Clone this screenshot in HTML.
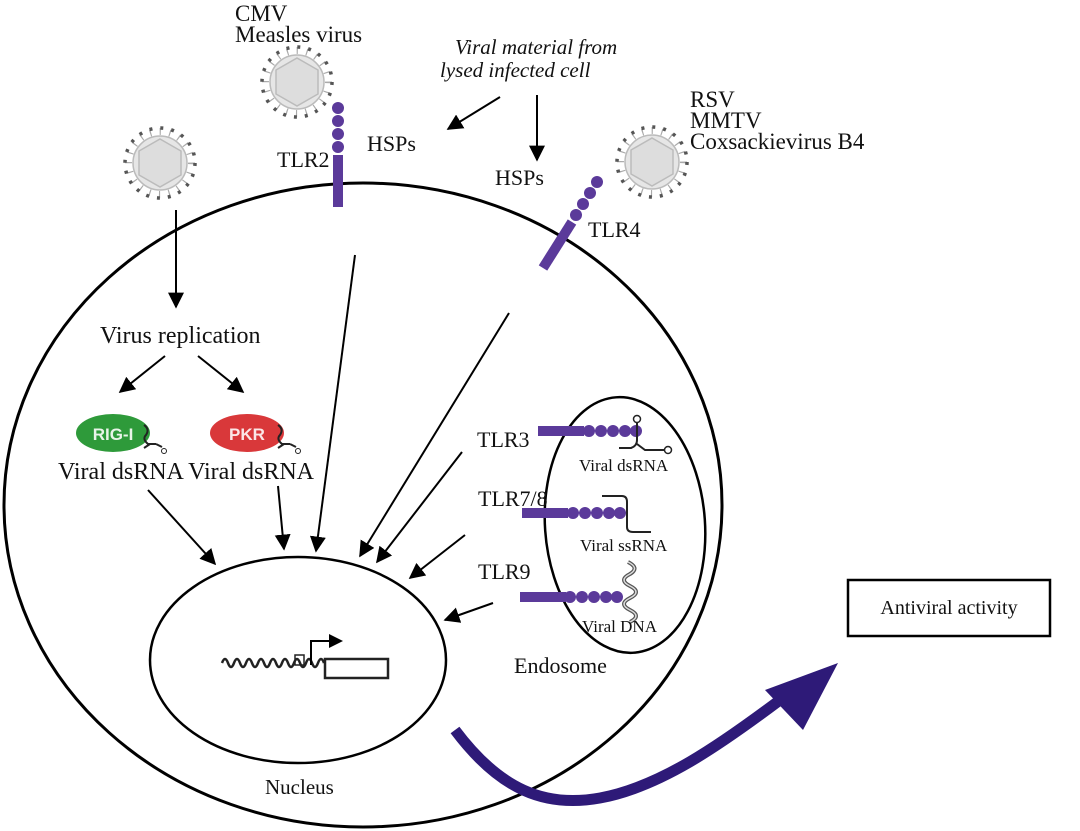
<!DOCTYPE html>
<html><head><style>
html,body{margin:0;padding:0;background:#fff;}
svg{display:block;}
text{font-family:"Liberation Serif",serif;fill:#111;}
</style></head><body>
<svg width="1080" height="831" viewBox="0 0 1080 831" xmlns="http://www.w3.org/2000/svg">
<defs>
<marker id="ah2" viewBox="0 0 10 10" refX="9" refY="5" markerWidth="16" markerHeight="16" orient="auto" markerUnits="userSpaceOnUse">
<path d="M0,0 L10,5 L0,10 z" fill="#000"/></marker>
<g id="virus">
<circle r="31" fill="none" stroke="#aaa" stroke-width="8" stroke-dasharray="1.2 8.5"/>
<circle r="28" fill="#fff"/>
<circle r="35" fill="none" stroke="#555" stroke-width="3.5" stroke-dasharray="3 8"/>
<circle r="27" fill="#e6e6e6" stroke="#bbb" stroke-width="1.5"/>
<polygon points="0,-24 21,-12 21,12 0,24 -21,12 -21,-12" fill="#ddd" stroke="#bbb" stroke-width="1.5"/>
</g>
</defs>

<ellipse cx="363" cy="505" rx="359" ry="322" fill="none" stroke="#000" stroke-width="3"/>
<ellipse cx="298" cy="660" rx="148" ry="103" fill="none" stroke="#000" stroke-width="2.5"/>
<ellipse cx="625" cy="525" rx="80" ry="128" fill="none" stroke="#000" stroke-width="2.5" transform="rotate(-4 625 525)"/>

<use href="#virus" x="160" y="163"/>
<use href="#virus" x="297" y="82"/>
<use href="#virus" x="652" y="162"/>

<text x="235" y="21" font-size="23">CMV</text>
<text x="235" y="42" font-size="23">Measles virus</text>
<text x="455" y="54" font-size="21" font-style="italic">Viral material from</text>
<text x="440" y="77" font-size="21" font-style="italic">lysed infected cell</text>
<text x="367" y="151" font-size="22">HSPs</text>
<text x="495" y="185" font-size="22">HSPs</text>
<text x="277" y="167" font-size="22">TLR2</text>
<text x="690" y="107" font-size="23">RSV</text>
<text x="690" y="128" font-size="23">MMTV</text>
<text x="690" y="149" font-size="23">Coxsackievirus B4</text>
<text x="588" y="237" font-size="22">TLR4</text>

<rect x="333" y="155" width="10" height="52" fill="#5b3a9a"/>
<g fill="#5b3a9a"><circle cx="338" cy="108" r="6"/><circle cx="338" cy="121" r="6"/><circle cx="338" cy="134" r="6"/><circle cx="338" cy="147" r="6"/></g>
<line x1="543" y1="268" x2="572" y2="222" stroke="#5b3a9a" stroke-width="10"/>
<g fill="#5b3a9a"><circle cx="576" cy="215" r="6"/><circle cx="583" cy="204" r="6"/><circle cx="590" cy="193" r="6"/><circle cx="597" cy="182" r="6"/></g>

<line x1="500" y1="97" x2="448" y2="129" stroke="#000" stroke-width="2" marker-end="url(#ah2)"/>
<line x1="537" y1="95" x2="537" y2="160" stroke="#000" stroke-width="2" marker-end="url(#ah2)"/>

<line x1="176" y1="210" x2="176" y2="307" stroke="#000" stroke-width="2" marker-end="url(#ah2)"/>
<text x="100" y="343" font-size="24">Virus replication</text>
<line x1="165" y1="356" x2="120" y2="392" stroke="#000" stroke-width="2" marker-end="url(#ah2)"/>
<line x1="198" y1="356" x2="243" y2="392" stroke="#000" stroke-width="2" marker-end="url(#ah2)"/>

<ellipse cx="113" cy="433" rx="37" ry="19" fill="#2e9a3a"/>
<text x="113" y="440" font-size="17" text-anchor="middle" style="fill:#e8f4e8;font-family:'Liberation Sans',sans-serif;font-weight:bold">RIG-I</text>
<ellipse cx="247" cy="433" rx="37" ry="19" fill="#d9383a"/>
<text x="247" y="440" font-size="17" text-anchor="middle" style="fill:#fbe6e6;font-family:'Liberation Sans',sans-serif;font-weight:bold">PKR</text>
<path d="M144,425 q6,4 2,10 q-4,4 2,9 l8,0 M150,444 l-6,4 M156,444 l6,3" stroke="#222" stroke-width="2" fill="none"/>
<circle cx="164" cy="451" r="2.5" fill="none" stroke="#222"/>
<path d="M278,425 q6,4 2,10 q-4,4 2,9 l8,0 M284,444 l-6,4 M290,444 l6,3" stroke="#222" stroke-width="2" fill="none"/>
<circle cx="298" cy="451" r="2.5" fill="none" stroke="#222"/>
<text x="58" y="479" font-size="24">Viral dsRNA Viral dsRNA</text>

<g stroke="#000" stroke-width="2" marker-end="url(#ah2)">
<line x1="148" y1="490" x2="215" y2="564"/>
<line x1="278" y1="486" x2="284" y2="549"/>
<line x1="355" y1="255" x2="316" y2="551"/>
<line x1="509" y1="313" x2="360" y2="556"/>
<line x1="462" y1="452" x2="377" y2="562"/>
<line x1="465" y1="535" x2="410" y2="578"/>
<line x1="493" y1="603" x2="445" y2="620"/>
</g>

<text x="477" y="447" font-size="22">TLR3</text>
<text x="478" y="506" font-size="22">TLR7/8</text>
<text x="478" y="579" font-size="22">TLR9</text>
<rect x="538" y="426" width="46" height="10" fill="#5b3a9a"/>
<g fill="#5b3a9a"><circle cx="589" cy="431" r="6"/><circle cx="601" cy="431" r="6"/><circle cx="613" cy="431" r="6"/><circle cx="625" cy="431" r="6"/><circle cx="636" cy="431" r="6"/></g>
<path d="M637,422 l0,18 q0,6 -6,8 l-12,0 M637,444 l8,6 l20,0" stroke="#222" stroke-width="2" fill="none"/>
<circle cx="637" cy="419" r="3.5" fill="#fff" stroke="#222" stroke-width="1.5"/>
<circle cx="668" cy="450" r="3.5" fill="#fff" stroke="#222" stroke-width="1.5"/>
<text x="579" y="471" font-size="17">Viral dsRNA</text>
<rect x="522" y="508" width="46" height="10" fill="#5b3a9a"/>
<g fill="#5b3a9a"><circle cx="573" cy="513" r="6"/><circle cx="585" cy="513" r="6"/><circle cx="597" cy="513" r="6"/><circle cx="609" cy="513" r="6"/><circle cx="620" cy="513" r="6"/></g>
<path d="M602,496 l20,0 q5,0 5,6 l0,25 q0,5 6,5 l18,0" stroke="#222" stroke-width="2" fill="none"/>
<text x="580" y="551" font-size="17">Viral ssRNA</text>
<rect x="520" y="592" width="46" height="10" fill="#5b3a9a"/>
<g fill="#5b3a9a"><circle cx="570" cy="597" r="6"/><circle cx="582" cy="597" r="6"/><circle cx="594" cy="597" r="6"/><circle cx="606" cy="597" r="6"/><circle cx="617" cy="597" r="6"/></g>
<path d="M628,562 q12,6 2,12 q-12,6 0,12 q12,6 0,12 q-12,6 0,12 q12,6 0,12" stroke="#555" stroke-width="4" fill="none"/>
<path d="M628,562 q12,6 2,12 q-12,6 0,12 q12,6 0,12 q-12,6 0,12 q12,6 0,12" stroke="#ddd" stroke-width="1.5" fill="none"/>
<text x="582" y="632" font-size="17">Viral DNA</text>
<text x="514" y="673" font-size="22">Endosome</text>

<path d="M222,663 q3,-8 6,0 q3,8 6,0 q3,-8 6,0 q3,8 6,0 q3,-8 6,0 q3,8 6,0 q3,-8 6,0 q3,8 6,0 q3,-8 6,0 q3,8 6,0 q3,-8 6,0 q3,8 6,0 q3,-8 6,0 q3,8 6,0 q3,-8 6,0 q3,8 6,0 q3,-8 6,0" stroke="#222" stroke-width="2.5" fill="none"/>
<rect x="295" y="655" width="9" height="10" fill="none" stroke="#222" stroke-width="1.5"/>
<rect x="325" y="659" width="63" height="19" fill="#fff" stroke="#222" stroke-width="2.5"/>
<path d="M311,665 l0,-24 l20,0" stroke="#000" stroke-width="2" fill="none"/>
<path d="M329,634 l14,7 l-14,7 z" fill="#000"/>
<text x="265" y="794" font-size="21">Nucleus</text>

<path d="M455,730 C500,790 545,808 600,798 C660,787 720,745 780,700" stroke="#2e1a78" stroke-width="11" fill="none"/>
<path d="M838,663 L765,690 L803,730 z" fill="#2e1a78"/>

<rect x="848" y="580" width="202" height="56" fill="#fff" stroke="#000" stroke-width="2.5"/>
<text x="949" y="614" font-size="20" text-anchor="middle">Antiviral activity</text>
</svg>
</body></html>
